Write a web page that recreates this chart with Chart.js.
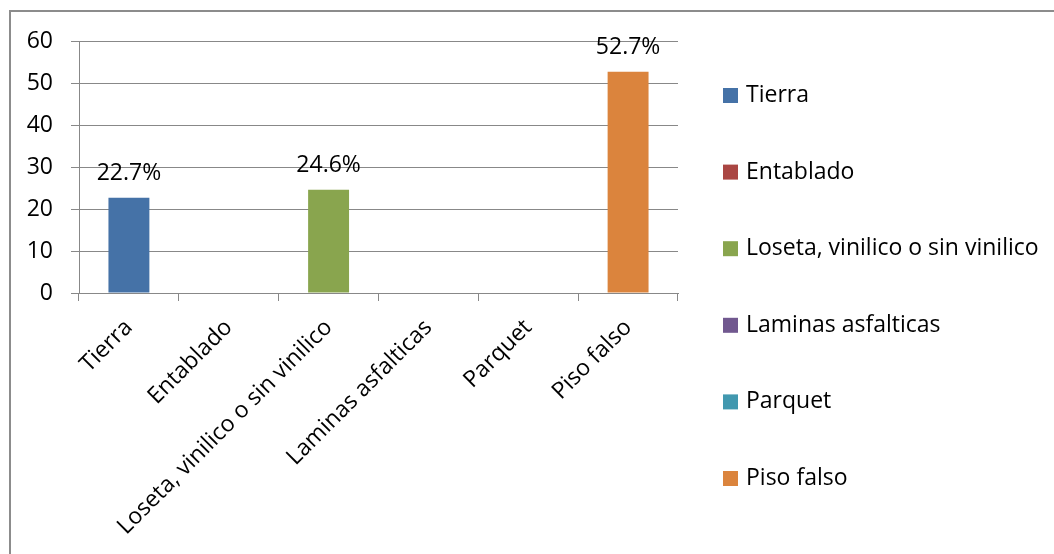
<!DOCTYPE html>
<html>
<head>
<meta charset="utf-8">
<script src="https://cdn.jsdelivr.net/npm/chart.js@4"></script>
<style>
  html, body { margin: 0; padding: 0; background: #fff; overflow: hidden; }
  #frame { position: absolute; left: 9px; top: 10px; width: 1100px; height: 600px; border-left: 2px solid #8c8c8c; border-top: 2px solid #8c8c8c; }
  #wrap { position: absolute; left: 0; top: 0; width: 1054px; height: 554px; }
</style>
</head>
<body>
<div id="frame"></div>
<div id="wrap"><canvas id="c" width="1054" height="554"></canvas></div>
<script>
const categories = ["Tierra", "Entablado", "Loseta, vinilico o sin vinilico", "Laminas asfalticas", "Parquet", "Piso falso"];
const seriesNames = ["Tierra", "Entablado", "Loseta, vinilico o sin vinilico", "Laminas asfalticas", "Parquet", "Piso falso"];
const seriesValues = [22.7, null, 24.6, null, null, 52.7];
const seriesColors = ["#4572A7", "#AA4643", "#89A54E", "#71588F", "#4198AF", "#DB843D"];
const yTicks = [0, 10, 20, 30, 40, 50, 60];

const FONT = "'Open Sans', sans-serif";

const datasets = seriesNames.map((name, i) => ({
  label: name,
  data: categories.map((c, j) => (j === i ? seriesValues[i] : null)),
  backgroundColor: seriesColors[i],
  borderWidth: 0,
  categoryPercentage: 1,
  barPercentage: 0.41,
  skipNull: true
}));

const valueLabels = {
  id: 'valueLabels',
  afterDatasetsDraw(chart) {
    const ctx = chart.ctx;
    ctx.save();
    ctx.font = "23px " + FONT;
    ctx.fillStyle = "#000";
    ctx.textAlign = "center";
    ctx.textBaseline = "middle";
    chart.data.datasets.forEach((ds, di) => {
      const meta = chart.getDatasetMeta(di);
      meta.data.forEach((bar, idx) => {
        const v = ds.data[idx];
        if (v === null || v === undefined) return;
        ctx.fillText(v.toFixed(1) + "%", bar.x, bar.y - 24);
      });
    });
    ctx.restore();
  }
};

const sideLegend = {
  id: 'sideLegend',
  afterDraw(chart) {
    const ctx = chart.ctx;
    const area = chart.chartArea;
    ctx.save();
    ctx.font = "23px " + FONT;
    ctx.textAlign = "left";
    ctx.textBaseline = "middle";
    const x0 = area.right + 45;
    const y0 = 95.5;
    const step = 76.6;
    chart.data.datasets.forEach((ds, i) => {
      const cy = y0 + i * step;
      ctx.fillStyle = ds.backgroundColor;
      ctx.fillRect(x0, cy - 7.5, 15, 15);
      ctx.fillStyle = "#000";
      ctx.fillText(ds.label, x0 + 23, cy);
    });
    ctx.restore();
  }
};

new Chart(document.getElementById('c'), {
  type: 'bar',
  data: { labels: categories, datasets },
  options: {
    responsive: false,
    animation: false,
    layout: { padding: { left: 0, top: 41, right: 376, bottom: 0 } },
    plugins: {
      legend: { display: false },
      tooltip: { enabled: false }
    },
    scales: {
      x: {
        grid: { drawOnChartArea: false, drawTicks: true, tickLength: 8, color: '#888888', offset: true },
        border: { color: '#888888', width: 1 },
        ticks: { color: '#000', font: { family: FONT, size: 23 }, minRotation: 45, maxRotation: 45, autoSkip: false, padding: 13 },
        afterFit(scale) { scale.height = 261; }
      },
      y: {
        min: 0, max: 60,
        afterBuildTicks(scale) { scale.ticks = yTicks.map(v => ({ value: v })); },
        grid: { color: '#888888', tickLength: 8 },
        border: { color: '#888888', width: 1 },
        ticks: { color: '#000', font: { family: FONT, size: 23 }, padding: 18 },
        afterFit(scale) { scale.width = 79; }
      }
    }
  },
  plugins: [valueLabels, sideLegend]
});
</script>
</body>
</html>
